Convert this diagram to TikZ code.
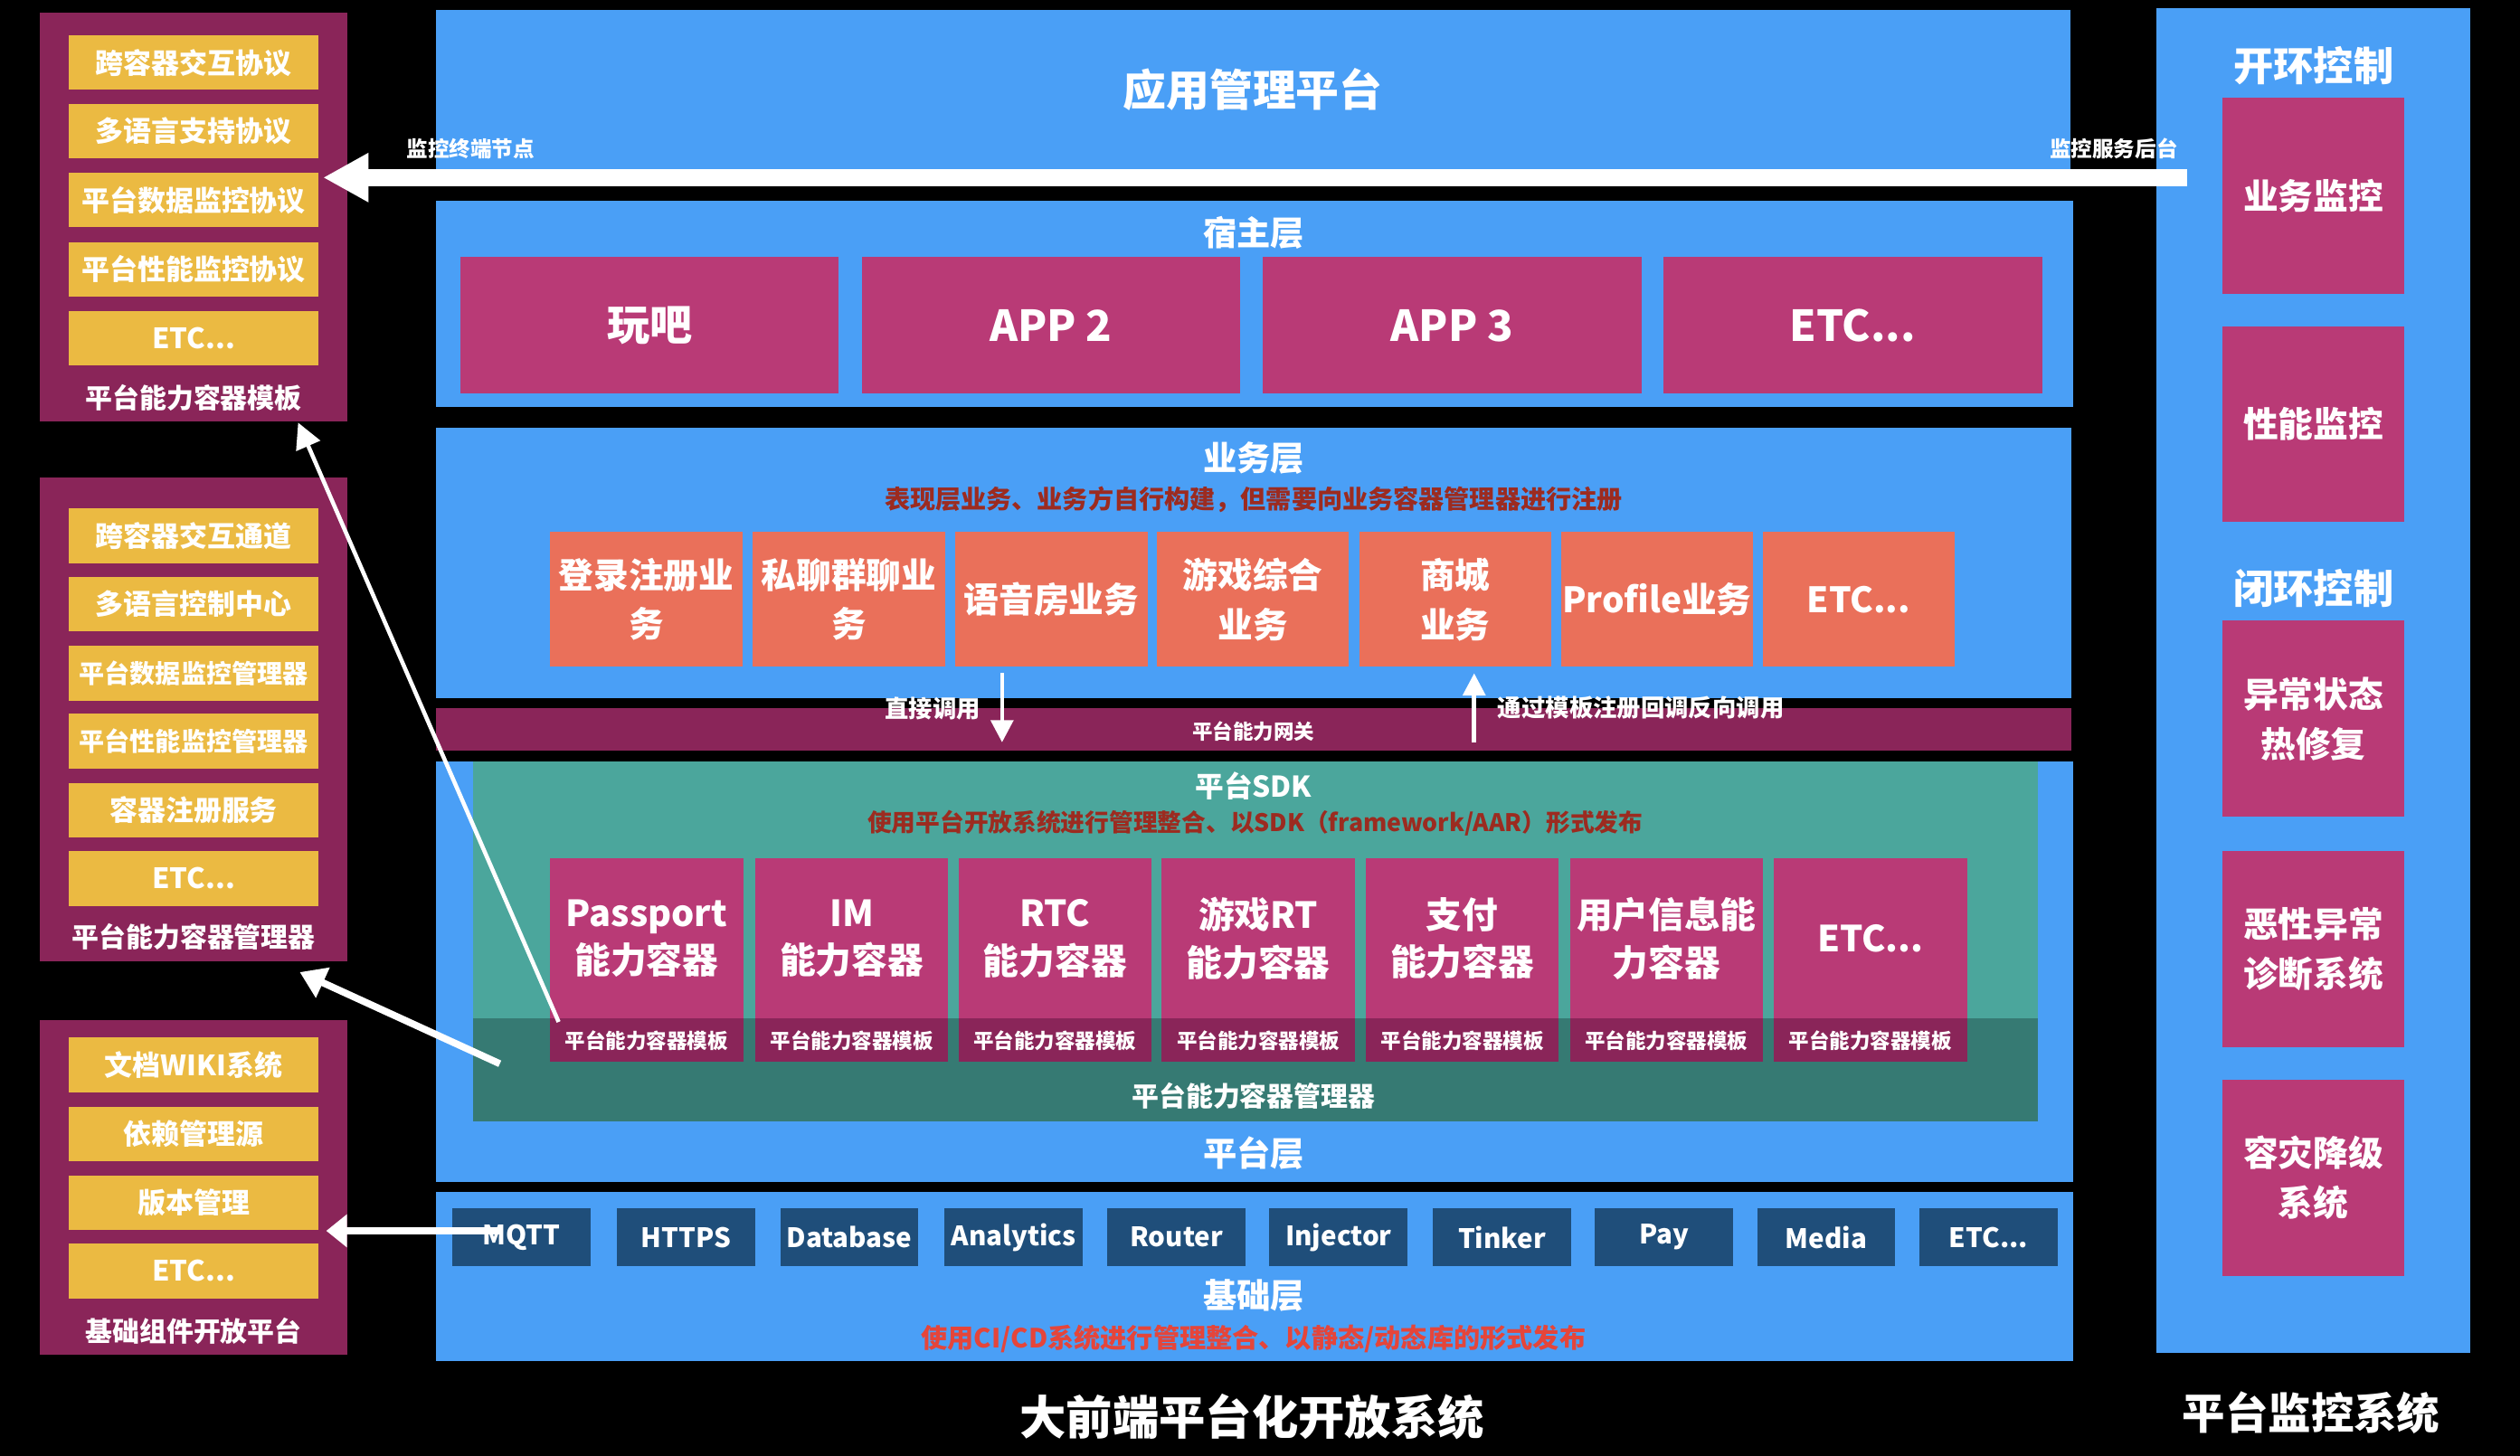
\documentclass[tikz,border=0pt]{standalone}
\usepackage{fontspec}
\setmainfont{Noto Sans CJK SC}
\usetikzlibrary{arrows.meta,positioning,calc}
\definecolor{layer}{HTML}{4A9FF6}
\definecolor{plum}{HTML}{8A2559}
\definecolor{rose}{HTML}{B93A76}
\definecolor{gold}{HTML}{EBBA42}
\definecolor{coral}{HTML}{EA705A}
\definecolor{sdk}{HTML}{4BA69C}
\definecolor{sdkdark}{HTML}{367A73}
\definecolor{libbox}{HTML}{1F4E7A}
\definecolor{remarkred}{HTML}{9C2B20}
\definecolor{alertred}{HTML}{E5453A}

\begin{document}
\begin{tikzpicture}[x=0.017768cm, y=-0.017768cm,
  every node/.style={text=white, inner sep=0pt, outer sep=0pt},
  dims/.style 2 args={minimum width=#1*0.017768cm, minimum height=#2*0.017768cm},
  panel/.style={fill=layer},
  frame/.style={fill=plum},
  item/.style={fill=gold, dims={155}{34}, font=\bfseries\fontsize{8.8}{10}\selectfont},
  appbox/.style={fill=rose, dims={235.5}{85}, font=\bfseries\fontsize{13.4}{16}\selectfont},
  biz/.style={fill=coral, dims={119.5}{84}, align=center, font=\bfseries\fontsize{11}{15.6}\selectfont},
  capbox/.style={fill=rose, dims={120.2}{100}, align=center, font=\bfseries\fontsize{11.3}{15}\selectfont},
  tpl/.style={fill=plum, dims={120.2}{27}, font=\bfseries\fontsize{6.4}{7}\selectfont},
  lib/.style={fill=libbox, dims={86}{36}, font=\bfseries\fontsize{8.4}{10}\selectfont},
  mon/.style={fill=rose, dims={113.4}{122}, align=center, font=\bfseries\fontsize{11}{15.6}\selectfont},
  headline/.style={font=\bfseries\fontsize{10.6}{12}\selectfont},
  caption/.style={font=\bfseries\fontsize{8.5}{10}\selectfont},
  remark/.style={text=remarkred, font=\bfseries\fontsize{8}{10}\selectfont},
  tag/.style={font=\bfseries\fontsize{7.5}{9}\selectfont},
  link/.style={white, line width=2.2pt}
]
  \fill[black] (0,0) rectangle (1568,906);

  % Platform capability container template
  \node[frame, dims={191}{254}] (tplBox) at (120.5,135) {};
  \node[item] (tplA) at (120.5,39) {跨容器交互协议};
  \node[item] (tplB) at (120.5,81.5) {多语言支持协议};
  \node[item] (tplC) at (120.5,124.5) {平台数据监控协议};
  \node[item] (tplD) at (120.5,167.7) {平台性能监控协议};
  \node[item] (tplE) at (120.5,210.6) {ETC...};
  \node[caption] (tplName) at (120.5,247.5) {平台能力容器模板};

  % Platform capability container manager
  \node[frame, dims={191}{301}] (mgrBox) at (120.5,447.5) {};
  \node[item] (mgrA) at (120.5,333.4) {跨容器交互通道};
  \node[item] (mgrB) at (120.5,376) {多语言控制中心};
  \node[item, font=\bfseries\fontsize{8}{10}\selectfont] (mgrC) at (120.5,419) {平台数据监控管理器};
  \node[item, font=\bfseries\fontsize{8}{10}\selectfont] (mgrD) at (120.5,461.2) {平台性能监控管理器};
  \node[item] (mgrE) at (120.5,504.2) {容器注册服务};
  \node[item] (mgrF) at (120.5,546.7) {ETC...};
  \node[caption] (mgrName) at (120.5,583) {平台能力容器管理器};

  % Base component platform
  \node[frame, dims={191}{208}] (baseBox) at (120.5,739) {};
  \node[item] (baseA) at (120.5,662.7) {文档WIKI系统};
  \node[item] (baseB) at (120.5,705.7) {依赖管理源};
  \node[item] (baseC) at (120.5,748.4) {版本管理};
  \node[item] (baseD) at (120.5,791) {ETC...};
  \node[caption] (baseName) at (120.5,828.3) {基础组件开放平台};

  % App management platform
  \node[panel, dims={1017}{99.4}, font=\bfseries\fontsize{13.6}{16}\selectfont] (appMgr) at (779.5,56) {应用管理平台};

  % Host layer
  \node[panel, dims={1019}{128}] (hostLayer) at (780.5,189) {};
  \node[headline] (hostName) at (780,145) {宿主层};
  \node[appbox] (appA) at (404.25,202.5) {玩吧};
  \node[appbox] (appB) at (654,202.5) {APP 2};
  \node[appbox] (appC) at (903.5,202.5) {APP 3};
  \node[appbox] (appD) at (1152.8,202.5) {ETC...};

  % Business layer
  \node[panel, dims={1018}{168.5}] (bizLayer) at (780,350.25) {};
  \node[headline] (bizName) at (780,285) {业务层};
  \node[remark] (bizNote) at (780,311) {表现层业务、业务方自行构建，但需要向业务容器管理器进行注册};
  \node[biz] (login) at (402.05,373) {登录注册业\\务};
  \node[biz] (chat) at (528.25,373) {私聊群聊业\\务};
  \node[biz] (voice) at (654.25,373) {语音房业务};
  \node[biz] (game) at (779.5,373) {游戏综合\\业务};
  \node[biz] (mall) at (905.4,373) {商城\\业务};
  \node[biz] (profile) at (1030.95,373) {Profile业务};
  \node[biz] (bizEtc) at (1156.5,373) {ETC...};

  % Gateway
  \node[frame, dims={1018}{26.5}] (gateway) at (780,453.75) {};
  \node[font=\bfseries\fontsize{6.4}{8}\selectfont] (gateName) at (780,455) {平台能力网关};

  % Platform layer
  \node[panel, dims={1019}{261.6}] (platLayer) at (780.5,604.8) {};
  \node[fill=sdk, dims={973.5}{224}] (sdkBox) at (781.25,586) {};
  \node[fill=sdkdark, dims={973.5}{64}] (sdkMgr) at (781.25,666) {};
  \node[headline, font=\bfseries\fontsize{9}{11}\selectfont] (sdkName) at (780,489) {平台SDK};
  \node[remark, font=\bfseries\fontsize{7.6}{10}\selectfont] (sdkNote) at (781,512) {使用平台开放系统进行管理整合、以SDK（framework/AAR）形式发布};
  \node[capbox] (passport) at (402.4,584) {Passport\\能力容器};
  \node[capbox] (im) at (529.9,584) {IM\\能力容器};
  \node[capbox] (rtc) at (656.45,584) {RTC\\能力容器};
  \node[capbox] (gameRt) at (783,584) {游戏RT\\能力容器};
  \node[capbox] (pay) at (909.9,584) {支付\\能力容器};
  \node[capbox] (user) at (1036.9,584) {用户信息能\\力容器};
  \node[capbox] (capEtc) at (1163.8,584) {ETC...};
  \node[tpl] (tplPassport) at (402.4,647.5) {平台能力容器模板};
  \node[tpl] (tplIm) at (529.9,647.5) {平台能力容器模板};
  \node[tpl] (tplRtc) at (656.45,647.5) {平台能力容器模板};
  \node[tpl] (tplGameRt) at (783,647.5) {平台能力容器模板};
  \node[tpl] (tplPay) at (909.9,647.5) {平台能力容器模板};
  \node[tpl] (tplUser) at (1036.9,647.5) {平台能力容器模板};
  \node[tpl] (tplEtc) at (1163.8,647.5) {平台能力容器模板};
  \node[caption] (sdkMgrName) at (780,682) {平台能力容器管理器};
  \node[headline] (platName) at (780,717.6) {平台层};

  % Base layer
  \node[panel, dims={1019}{105}] (baseLayer) at (780.5,794.5) {};
  \node[lib] (mqtt) at (324.25,770) {MQTT};
  \node[lib] (https) at (426.85,770) {HTTPS};
  \node[lib] (db) at (528.5,770) {Database};
  \node[lib] (analytics) at (630.8,770) {Analytics};
  \node[lib] (router) at (732,770) {Router};
  \node[lib] (injector) at (832.9,770) {Injector};
  \node[lib] (tinker) at (934.5,770) {Tinker};
  \node[lib] (payLib) at (1035.3,770) {Pay};
  \node[lib] (media) at (1136.3,770) {Media};
  \node[lib] (libEtc) at (1237.3,770) {ETC...};
  \node[headline] (baseLayerName) at (780,806) {基础层};
  \node[remark, text=alertred, font=\bfseries\fontsize{8.3}{10}\selectfont] (baseNote) at (780,833) {使用CI/CD系统进行管理整合、以静态/动态库的形式发布};

  \node[font=\bfseries\fontsize{14.6}{18}\selectfont] (mainTitle) at (779,882) {大前端平台化开放系统};

  % Monitoring system
  \node[panel, dims={195}{837}] (monBox) at (1439.5,423.5) {};
  \node[font=\bfseries\fontsize{12.6}{15}\selectfont] (openLoop) at (1439.5,41) {开环控制};
  \node[mon] (bizMon) at (1439.3,122) {业务监控};
  \node[mon] (perfMon) at (1439.3,264) {性能监控};
  \node[font=\bfseries\fontsize{12.6}{15}\selectfont] (closedLoop) at (1439.5,366) {闭环控制};
  \node[mon] (hotfix) at (1439.3,447.35) {异常状态\\热修复};
  \node[mon] (diagnose) at (1439.3,590.85) {恶性异常\\诊断系统};
  \node[mon] (degrade) at (1439.3,733) {容灾降级\\系统};
  \node[font=\bfseries\fontsize{13.5}{16}\selectfont] (monTitle) at (1438,879) {平台监控系统};

  % Arrows
  \coordinate (monTail) at (1361,110.5);
  \draw[white, line width=5.5pt, -{Triangle[length=14.3pt,width=14.5pt]}] (monTail) -- ($(tplBox.east |- monTail)+(-15,0)$);
  \node[tag, font=\bfseries\fontsize{6.7}{8}\selectfont, anchor=west] (leftTag) at (253,92.5) {监控终端节点};
  \node[tag, font=\bfseries\fontsize{6.7}{8}\selectfont, anchor=east] (rightTag) at (1355,92.5) {监控服务后台};

  \draw[white, line width=1.3pt, -{Triangle[length=8pt,width=8pt]}] ($(tplPassport.north west)+(5.3,2)$) -- ($(tplBox.south)+(65,1)$);
  \coordinate (mgrTail) at (311,662);
  \draw[link, -{Triangle[length=8pt,width=10pt]}] (mgrTail) -- ($(mgrBox.south)+(66,7)$);
  \draw[link, -{Triangle[length=6.5pt,width=10pt]}] ($(mqtt.west)+(30,-4)$) -- ($(baseBox.east |- mqtt.west)+(-13,-4)$);

  \draw[white, line width=1.3pt, -{Triangle[length=7pt,width=7pt]}] ($(voice.south west)+(29,4)$) -- ($(voice.south west |- gateway.south)+(29,-5)$);
  \draw[white, line width=1.3pt, -{Triangle[length=7pt,width=7pt]}] ($(mall.south west |- gateway.south)+(71.6,-5)$) -- ($(mall.south west)+(71.6,4)$);
  \node[tag, anchor=east] (directTag) at (610,440.7) {直接调用};
  \node[tag, anchor=west] (callbackTag) at (932,440.7) {通过模板注册回调反向调用};
\end{tikzpicture}
\end{document}
